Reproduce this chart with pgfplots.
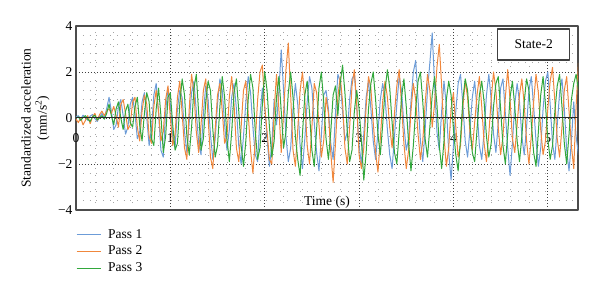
\documentclass[border=0pt]{standalone}
\usepackage{fontspec}
\setmainfont{Liberation Serif}
\usepackage{pgfplots}
\usepackage{pgfplotstable}
\pgfplotsset{compat=1.18}
\definecolor{cB}{RGB}{108,156,216}
\definecolor{cO}{RGB}{240,135,60}
\definecolor{cG}{RGB}{50,168,60}
\pgfplotstableread{
t b o g
0.000 0.05 -0.05 0.00
0.025 0.10 -0.20 0.05
0.050 -0.05 0.00 -0.10
0.075 0.12 -0.30 0.02
0.100 0.02 -0.10 0.10
0.125 -0.10 0.10 -0.05
0.150 0.08 -0.25 -0.15
0.175 0.15 0.05 0.05
0.200 -0.02 0.20 0.12
0.225 -0.15 -0.10 -0.08
0.250 0.05 0.15 0.00
0.275 0.20 0.30 0.10
0.300 0.00 0.10 -0.05
0.325 0.40 0.30 0.20
0.350 0.90 0.40 0.60
0.375 0.30 0.20 0.10
0.400 -0.50 0.50 -0.30
0.425 -0.30 0.10 0.40
0.450 0.50 -0.40 0.70
0.475 0.80 0.60 0.00
0.500 0.10 0.80 -0.50
0.525 -0.70 0.20 0.30
0.550 -0.40 -0.50 0.60
0.575 0.60 -0.30 -0.20
0.600 0.90 0.70 -0.40
0.625 0.20 0.90 0.50
0.650 -0.90 -0.40 0.90
0.675 -0.60 -1.00 -0.30
0.700 0.70 0.30 -1.00
0.725 1.10 1.00 0.20
0.750 0.00 0.60 1.10
0.775 -1.20 -0.80 0.70
0.800 -0.50 -1.10 -0.90
0.825 1.00 0.50 -1.20
0.850 1.50 1.20 0.40
0.875 0.20 0.30 1.30
0.900 -1.40 -1.00 0.10
0.925 -1.70 -0.60 -1.50
0.950 0.30 0.80 -0.80
0.975 1.30 1.40 0.90
1.000 0.60 0.00 1.10
1.025 -0.80 -1.20 -0.30
1.050 -1.30 -0.70 -1.40
1.075 0.40 0.90 -1.10
1.100 1.20 1.60 0.60
1.125 0.90 0.20 1.70
1.150 -0.60 -1.30 1.00
1.175 -1.50 -1.80 -0.80
1.200 -0.20 0.40 -1.60
1.225 1.10 1.90 -0.40
1.250 1.60 1.10 1.30
1.275 0.30 -0.60 1.90
1.300 -1.10 -1.50 0.20
1.325 -1.60 -0.30 -1.40
1.350 0.20 1.20 -0.90
1.375 1.40 1.70 0.70
1.400 0.80 0.00 1.60
1.425 -0.70 -1.70 1.20
1.450 -1.80 -2.20 -0.50
1.475 -0.90 -0.50 -1.70
1.500 0.60 1.00 -1.20
1.525 1.70 1.50 0.50
1.550 1.20 0.30 1.80
1.575 -0.30 -1.10 0.90
1.600 -1.40 -0.80 -0.90
1.625 -0.50 0.90 -1.90
1.650 0.90 1.80 -0.60
1.675 1.50 0.60 1.10
1.700 0.40 -1.30 1.70
1.725 -1.20 -1.90 0.30
1.750 -2.00 -0.40 -1.20
1.775 -0.80 1.20 -2.10
1.800 0.70 1.60 -1.00
1.825 1.80 0.20 0.80
1.850 1.10 -1.40 1.90
1.875 -0.40 -2.40 1.30
1.900 -1.60 -1.00 -0.60
1.925 -1.90 0.80 -1.80
1.950 0.10 2.00 -1.30
1.975 1.30 2.30 0.60
2.000 0.50 0.50 2.00
2.025 -0.90 -0.60 1.20
2.050 -2.10 -1.80 -0.40
2.075 -1.20 -2.00 -1.70
2.100 0.80 0.30 -1.00
2.125 -0.30 1.90 0.90
2.150 1.20 0.40 1.80
2.175 2.96 -1.50 0.30
2.200 1.20 0.20 -1.30
2.225 -0.80 2.10 -0.60
2.250 -1.90 3.26 1.10
2.275 -1.30 1.00 2.00
2.300 0.40 -1.40 0.90
2.325 1.50 -2.10 -0.80
2.350 0.60 -0.50 -1.80
2.375 -1.20 1.20 -2.50
2.400 -2.20 2.00 -0.70
2.425 -0.90 0.80 1.00
2.450 0.70 -1.20 1.60
2.475 1.80 -2.00 0.20
2.500 1.30 -0.40 -1.40
2.525 -0.20 1.50 -2.10
2.550 -1.50 1.10 -0.50
2.575 -2.30 -0.30 1.30
2.600 -0.80 -1.70 2.00
2.625 1.00 -1.00 0.70
2.650 1.20 0.90 -0.90
2.675 0.40 0.20 -1.80
2.700 -1.10 -1.50 -0.60
2.725 -1.80 -2.80 1.00
2.750 0.20 -1.10 1.40
2.775 1.90 0.90 0.10
2.800 1.60 1.80 1.50
2.825 0.30 0.70 2.30
2.850 -1.00 -1.30 1.10
2.875 -0.60 -2.00 -0.60
2.900 0.80 -0.40 -1.90
2.925 1.70 1.40 -1.40
2.950 1.90 2.10 0.30
2.975 0.50 0.60 1.20
3.000 -1.20 -1.60 0.40
3.025 -2.00 -2.20 -1.00
3.050 -0.70 -1.30 -2.70
3.075 0.90 0.50 -1.50
3.100 1.60 1.80 0.40
3.125 0.40 1.30 1.50
3.150 -1.00 -0.20 2.00
3.175 -1.80 -1.50 0.80
3.200 -0.60 -2.35 -0.70
3.225 0.80 -0.90 -1.60
3.250 1.50 0.70 -0.30
3.275 0.90 1.60 1.20
3.300 -0.50 0.90 2.10
3.325 -1.60 -0.40 1.30
3.350 -2.20 -1.30 -0.20
3.375 -0.80 0.20 -1.50
3.400 0.60 1.40 -2.00
3.425 1.80 2.10 -0.60
3.450 1.20 0.60 0.90
3.475 -0.30 -1.10 1.70
3.500 -1.40 -2.20 0.50
3.525 -0.90 -1.40 -1.10
3.550 0.70 0.30 -2.30
3.575 2.00 1.50 -1.20
3.600 2.50 0.80 0.40
3.625 0.80 -0.70 1.60
3.650 -1.00 -1.80 2.00
3.675 -1.90 -1.00 0.70
3.700 -0.50 0.60 -0.90
3.725 1.20 1.90 -1.70
3.750 2.40 1.20 -0.40
3.775 3.70 -0.40 1.00
3.800 1.50 0.60 1.80
3.825 -0.60 2.20 0.60
3.850 -1.40 3.20 -1.20
3.875 0.30 1.40 -2.20
3.900 1.60 -0.80 -1.00
3.925 0.50 -2.10 0.80
3.950 -1.50 -1.30 1.60
3.975 -2.70 0.40 1.00
4.000 -1.20 1.10 -0.50
4.025 0.30 -0.40 -1.60
4.050 1.50 -1.70 -2.30
4.075 1.90 -1.20 -0.90
4.100 0.60 0.50 0.80
4.125 -1.00 1.60 1.70
4.150 -1.70 0.90 1.20
4.175 -0.50 -0.60 -0.30
4.200 0.90 -1.40 -1.50
4.225 1.60 -0.20 -1.90
4.250 0.40 1.00 -0.50
4.275 -1.20 1.80 1.00
4.300 -1.80 0.50 1.60
4.325 -0.60 -1.10 0.70
4.350 1.00 -1.90 -0.80
4.375 1.90 -0.70 -1.70
4.400 0.80 0.80 -1.10
4.425 -0.70 2.00 0.50
4.450 -1.50 1.20 1.50
4.475 -0.20 -0.40 1.80
4.500 1.30 -1.60 0.40
4.525 1.70 -0.80 -1.20
4.550 0.20 0.90 -2.00
4.575 -1.30 2.10 -0.70
4.600 -2.50 0.80 0.90
4.625 -1.10 -0.90 1.60
4.650 0.60 -1.50 0.50
4.675 1.50 -0.30 -1.00
4.700 0.70 1.00 -1.90
4.725 -0.80 1.70 -0.80
4.750 -1.60 0.60 0.70
4.775 -0.40 -1.00 1.70
4.800 1.20 -2.00 1.20
4.825 1.80 -0.80 -0.20
4.850 0.50 0.70 -1.50
4.875 -1.00 1.90 -2.10
4.900 -2.10 1.10 -0.60
4.925 -1.30 -0.50 1.00
4.950 0.40 -1.60 1.80
4.975 1.60 -1.00 0.60
5.000 2.00 0.40 -0.90
5.025 0.60 1.60 -1.80
5.050 -1.10 2.20 -1.20
5.075 -1.80 0.70 0.30
5.100 -0.30 -0.90 1.40
5.125 1.10 -1.70 1.90
5.150 1.70 -0.40 0.50
5.175 0.40 1.20 -1.10
5.200 -1.40 1.80 -2.00
5.225 -2.30 0.30 -0.70
5.250 -1.00 -1.20 0.80
5.275 0.70 -2.20 1.50
5.300 -0.80 0.50 1.90
5.325 -1.60 2.40 1.20
}\datatab

\begin{document}
\begin{tikzpicture}
\useasboundingbox (-76pt,-81pt) rectangle (524pt,210pt);
\begin{axis}[
  at={(0pt,0pt)}, anchor=south west,
  scale only axis, width=502pt, height=184pt,
  xmin=0, xmax=5.32, ymin=-4, ymax=4,
  xtick={0,1,2,3,4,5}, xticklabels={0,1,2,3,4,5},
  ytick={-4,-2,0,2,4}, yticklabels={−4,−2,0,2,4},
  minor x tick num=4, minor y tick num=4,
  grid=both,
  major grid style={black!75, line width=0.7pt, dash pattern=on 0.8pt off 2.2pt},
  minor grid style={black!35, line width=0.7pt, dash pattern=on 0.8pt off 6pt},
  major tick length=0pt, minor tick length=0pt,
  axis line style={black!70, line width=1.2pt},
  tick label style={font=\fontsize{13.5}{15}\selectfont},
  xticklabel style={anchor=center, yshift=72pt},
  xlabel={Time (s)},
  xlabel style={at={(axis description cs:0.5,0.04)}, anchor=center, font=\fontsize{13.5}{15}\selectfont},
  ylabel={Standardized acceleration\\(mm/s\textsuperscript{2})},
  ylabel style={at={(axis description cs:-0.0807,0.5)}, anchor=center, align=center, font=\fontsize{13.5}{16}\selectfont},
  legend style={at={(axis description cs:0,-0.092)}, anchor=north west, draw=none, fill=none, inner sep=0pt,
    font=\fontsize{13.5}{15}\selectfont, row sep=2.5pt,
    /tikz/every odd column/.append style={column sep=5pt}},
  legend cell align=left,
  legend image code/.code={\draw[#1, line width=1pt] (0pt,0pt) -- (24pt,0pt);},
  line join=round,
]
\addplot[cB, line width=1pt] table[x=t, y=b] {\datatab};
\addlegendentry{Pass 1}
\addplot[cO, line width=1pt] table[x=t, y=o] {\datatab};
\addlegendentry{Pass 2}
\addplot[cG, line width=1pt] table[x=t, y=g] {\datatab};
\addlegendentry{Pass 3}
\draw[black!85, line width=1pt] (axis cs:0,0) -- (axis cs:5.32,0);
\node[draw=black!75, line width=1.2pt, fill=white, minimum width=72pt, minimum height=31pt, font=\fontsize{13.5}{15}\selectfont]
  at (axis description cs:0.912,0.899) {State-2};
\end{axis}
\end{tikzpicture}
\end{document}
